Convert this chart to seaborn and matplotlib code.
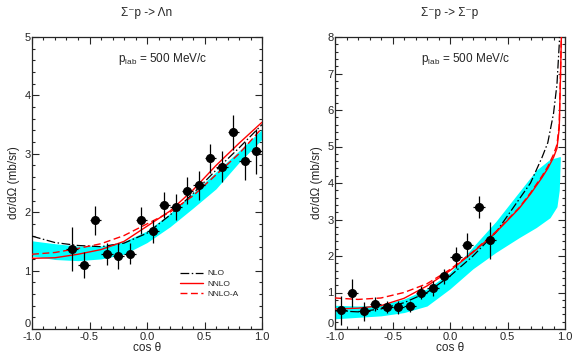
import numpy as np
import matplotlib
matplotlib.use("Agg")
import matplotlib.pyplot as plt
import seaborn as sns
from matplotlib.ticker import MultipleLocator

# ---- left panel: Sigma- p -> Lambda n ----
l_cos = [-0.65, -0.55, -0.45, -0.35, -0.25, -0.15, -0.05, 0.05, 0.15,
         0.25, 0.35, 0.45, 0.55, 0.65, 0.75, 0.85, 0.95]
l_val = [1.37, 1.10, 1.86, 1.28, 1.25, 1.29, 1.86, 1.67, 2.12,
         2.09, 2.37, 2.46, 2.92, 2.78, 3.37, 2.88, 3.04]
l_err = [0.37, 0.22, 0.25, 0.19, 0.22, 0.18, 0.23, 0.20, 0.22,
         0.23, 0.23, 0.25, 0.25, 0.27, 0.30, 0.33, 0.39]

l_x = [-1.0, -0.8, -0.6, -0.4, -0.2, 0.0, 0.2, 0.4, 0.6, 0.8, 1.0]
l_nlo = [1.59, 1.48, 1.43, 1.41, 1.47, 1.64, 1.95, 2.32, 2.72, 3.10, 3.50]
l_nnlo = [1.21, 1.22, 1.28, 1.36, 1.50, 1.76, 2.02, 2.38, 2.80, 3.18, 3.54]
l_nnloa = [1.28, 1.31, 1.38, 1.46, 1.60, 1.80, 2.00, 2.28, 2.64, 3.00, 3.44]
l_band_hi = [1.51, 1.46, 1.42, 1.42, 1.50, 1.68, 1.98, 2.33, 2.69, 3.05, 3.42]
l_band_lo = [1.25, 1.19, 1.17, 1.20, 1.28, 1.48, 1.75, 2.07, 2.40, 2.85, 3.25]

# ---- right panel: Sigma- p -> Sigma- p ----
r_cos = [-0.95, -0.85, -0.75, -0.65, -0.55, -0.45, -0.35, -0.25, -0.15,
         -0.05, 0.05, 0.15, 0.25, 0.35]
r_val = [0.51, 0.99, 0.48, 0.69, 0.61, 0.59, 0.62, 0.99, 1.11,
         1.44, 1.96, 2.30, 3.34, 2.43]
r_err = [0.40, 0.38, 0.25, 0.20, 0.17, 0.17, 0.15, 0.18, 0.20,
         0.20, 0.30, 0.33, 0.30, 0.50]

r_x = [-1.0, -0.8, -0.6, -0.4, -0.2, 0.0, 0.2, 0.4, 0.6, 0.7, 0.8,
       0.85, 0.9, 0.93, 0.95, 0.96, 0.97]
r_nlo = [0.50, 0.47, 0.55, 0.72, 1.00, 1.45, 2.00, 2.65, 3.55, 4.00, 4.70,
         5.10, 5.90, 6.70, 7.80, 8.50, 9.00]
r_nnlo = [0.55, 0.57, 0.64, 0.84, 1.18, 1.60, 2.10, 2.65, 3.30, 3.70, 4.15,
          4.40, 4.70, 4.95, 5.50, 6.80, 8.20]
r_nnloa = [0.85, 0.81, 0.85, 1.00, 1.24, 1.63, 2.12, 2.67, 3.32, 3.73, 4.19,
           4.45, 4.78, 5.05, 5.60, 6.90, 8.30]
r_bx = [-1.0, -0.8, -0.6, -0.4, -0.2, 0.0, 0.2, 0.4, 0.6, 0.75, 0.87,
        0.93, 0.95, 0.96]
r_band_hi = [0.65, 0.63, 0.66, 0.82, 1.10, 1.55, 2.25, 2.95, 3.75, 4.35,
             4.65, 4.70, 4.72, 4.72]
r_band_lo = [0.28, 0.32, 0.36, 0.45, 0.63, 1.10, 1.65, 2.10, 2.50, 2.78,
             3.05, 3.35, 3.80, 4.72]

sns.set_style("ticks")
plt.rcParams['font.family'] = ['Liberation Sans', 'DejaVu Sans']
plt.rcParams['mathtext.fontset'] = 'custom'
plt.rcParams['mathtext.rm'] = 'Liberation Sans'
plt.rcParams['mathtext.it'] = 'Liberation Sans'

fig = plt.figure(figsize=(5.74, 3.56), dpi=100)
ax1 = fig.add_axes([32 / 574, 27 / 356, 230 / 574, 292 / 356])
ax2 = fig.add_axes([335 / 574, 27 / 356, 230 / 574, 292 / 356])

dashdot = (7, 2, 1.2, 2)
dashed = (5, 2.5)


def panel(ax, bx, lo, hi, cx, nlo, nnlo, nnloa, px, py, pe, ymax, title, legend):
    ax.fill_between(bx, lo, hi, color='#00ffff', lw=0, zorder=1)
    sns.lineplot(x=cx, y=nlo, ax=ax, color='black', lw=0.9,
                 label='NLO', zorder=3).lines[-1].set_dashes(dashdot)
    sns.lineplot(x=cx, y=nnlo, ax=ax, color='red', lw=1.0, label='NNLO', zorder=3)
    sns.lineplot(x=cx, y=nnloa, ax=ax, color='red', lw=1.0,
                 label='NNLO-A', zorder=3).lines[-1].set_dashes(dashed)
    ax.errorbar(px, py, yerr=pe, xerr=0.05, fmt='o', color='black', ms=5.5,
                elinewidth=0.9, capsize=0, zorder=4)
    ax.set_xlim(-1, 1)
    ax.set_ylim(0, ymax)
    ax.xaxis.set_major_locator(MultipleLocator(0.5))
    ax.xaxis.set_minor_locator(MultipleLocator(0.1))
    ax.yaxis.set_major_locator(MultipleLocator(1))
    ax.yaxis.set_minor_locator(MultipleLocator(0.2))
    ax.xaxis.set_major_formatter(matplotlib.ticker.FormatStrFormatter('%.1f'))
    ax.tick_params(which='both', direction='in', top=True, right=True,
                   labelsize=8, width=0.8)
    ax.tick_params(axis='x', pad=2)
    ax.tick_params(axis='y', pad=1)
    ax.tick_params(which='major', length=5)
    ax.tick_params(which='minor', length=2.5)
    for s in ax.spines.values():
        s.set_linewidth(0.9)
    ax.set_xlabel('cos θ', fontsize=8.5, labelpad=0)
    ax.set_ylabel('dσ/dΩ (mb/sr)', fontsize=8.5, labelpad=3)
    ax.set_title(title, fontsize=8.5, pad=15)
    ax.text(0.57, 0.925, r'p$_{\mathrm{lab}}$ = 500 MeV/c', transform=ax.transAxes,
            ha='center', va='center', fontsize=8.5)
    if legend:
        ax.legend(loc='lower right', bbox_to_anchor=(0.93, 0.08), frameon=False,
                  fontsize=6, handlelength=2.8, labelspacing=0.3, handletextpad=0.5)
    else:
        ax.get_legend().remove()


panel(ax1, l_x, l_band_lo, l_band_hi, l_x, l_nlo, l_nnlo, l_nnloa,
      l_cos, l_val, l_err, 5, 'Σ⁻p -> Λn', True)
panel(ax2, r_bx, r_band_lo, r_band_hi, r_x, r_nlo, r_nnlo, r_nnloa,
      r_cos, r_val, r_err, 8, 'Σ⁻p -> Σ⁻p', False)

# lift the "0" label a little so it clears the "-1.0" below it
fig.canvas.draw()
for ax in (ax1, ax2):
    for t in ax.yaxis.get_major_ticks():
        if abs(t.get_loc()) < 1e-9:
            t.label1.set_va('bottom')

fig.savefig('out.png', dpi=100)
